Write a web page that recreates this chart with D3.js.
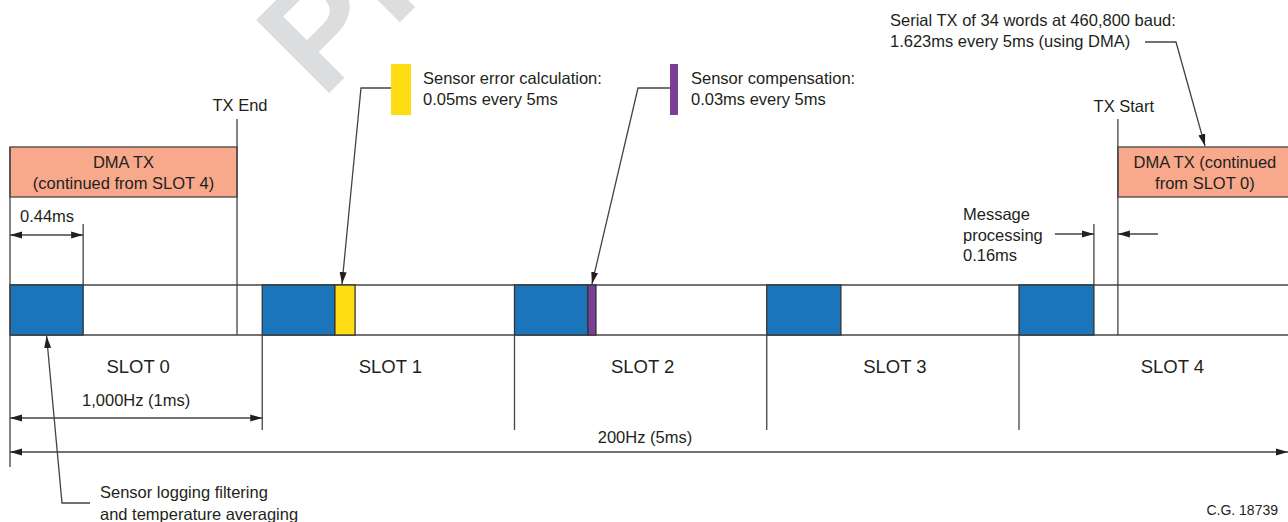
<!DOCTYPE html>
<html lang="en">
<head>
    <meta charset="UTF-8">
    <title>Slot timing</title>
    <script src="https://d3js.org/d3.v7.min.js"></script>
    <style>
    body{
        margin: 0;
        background: #fff;
    }
    svg text {
        font-family: "Liberation Sans", Arial, sans-serif;
        font-size: 16.5px;
        fill: #231f20;
    }
    .slot-label {
        font-size: 18.5px;
    }
    .line {
        stroke: #444;
        stroke-width: 1.3;
        fill: none;
    }
    </style>
</head>
<body>
    <script>
    var width = 1288;
    var height = 522;

    // slots (ms)
    var slotNames = ["SLOT 0", "SLOT 1", "SLOT 2", "SLOT 3", "SLOT 4"];
    var slotStart = [0, 1, 2, 3, 4];
    var slotEnd = [1, 2, 3, 4, 5.2];

    // sensor logging filtering blocks (blue), start / end in ms
    var filterStart = [0, 1, 2, 3, 4];
    var filterEnd = [0.29, 1.288, 2.291, 3.294, 4.297];

    // sensor error calculation (yellow) and compensation (purple)
    var errorCalc = [1.288, 1.368];
    var compensation = [2.291, 2.323];

    // DMA TX boxes
    var dmaStart = [0, 4.392];
    var dmaEnd = [0.9, 5.082];
    var dmaLines = [["DMA TX", "(continued from SLOT 4)"], ["DMA TX (continued", "from SLOT 0)"]];

    var txEnd = 0.9;
    var txStart = 4.392;

    var svg = d3.select("body")
        .append("svg")
        .attr("width", width)
        .attr("height", height);

    var x = d3.scaleLinear()
        .domain([0, 5])
        .range([10, 10 + 252.25 * 5]);

    var bandTop = 285, bandBottom = 335;

    // arrow marker
    var defs = svg.append("defs");
    defs.append("marker")
        .attr("id", "arr")
        .attr("viewBox", "0 0 12 8")
        .attr("refX", 12).attr("refY", 4)
        .attr("markerWidth", 12).attr("markerHeight", 8)
        .attr("markerUnits", "userSpaceOnUse")
        .attr("orient", "auto-start-reverse")
        .append("path")
        .attr("d", "M0,0.5 L12,4 L0,7.5 Z")
        .attr("fill", "#231f20");

    // watermark (cut off at the top, as in the original)
    svg.append("text")
        .attr("transform", "translate(322,100) rotate(-45)")
        .style("font-size", "150px")
        .style("font-weight", "bold")
        .style("fill", "#dcdddf")
        .text("PREVIEW");

    function line(x1, y1, x2, y2, arrowStart, arrowEnd) {
        var l = svg.append("line")
            .attr("class", "line")
            .attr("x1", x1).attr("y1", y1)
            .attr("x2", x2).attr("y2", y2);
        if (arrowStart) l.attr("marker-start", "url(#arr)");
        if (arrowEnd) l.attr("marker-end", "url(#arr)");
        return l;
    }

    function leader(points) {
        svg.append("path")
            .attr("class", "line")
            .attr("d", d3.line()(points))
            .attr("marker-end", "url(#arr)");
    }

    // DMA boxes
    svg.selectAll(".dma")
        .data(dmaStart)
        .enter().append("rect")
        .attr("class", "dma")
        .attr("x", function(d) { return x(d); })
        .attr("y", 147)
        .attr("width", function(d, i) { return x(dmaEnd[i]) - x(d); })
        .attr("height", 50)
        .attr("fill", "#f8a98b")
        .attr("stroke", "#444")
        .attr("stroke-width", 1.3);

    dmaLines.forEach(function(lines, i) {
        var cx = (x(dmaStart[i]) + x(dmaEnd[i])) / 2;
        lines.forEach(function(t, j) {
            svg.append("text")
                .attr("x", cx).attr("y", 168 + j * 21)
                .attr("text-anchor", "middle")
                .text(t);
        });
    });

    // timeline band
    line(x(0), bandTop, width, bandTop);
    line(x(0), bandBottom, width, bandBottom);

    svg.selectAll(".filter")
        .data(filterStart)
        .enter().append("rect")
        .attr("class", "filter")
        .attr("x", function(d) { return x(d); })
        .attr("y", bandTop)
        .attr("width", function(d, i) { return x(filterEnd[i]) - x(d); })
        .attr("height", bandBottom - bandTop)
        .attr("fill", "#1b75bb")
        .attr("stroke", "#333")
        .attr("stroke-width", 1.3);

    svg.append("rect")
        .attr("x", x(errorCalc[0])).attr("y", bandTop)
        .attr("width", x(errorCalc[1]) - x(errorCalc[0]))
        .attr("height", bandBottom - bandTop)
        .attr("fill", "#ffdd15").attr("stroke", "#333").attr("stroke-width", 1.3);

    svg.append("rect")
        .attr("x", x(compensation[0])).attr("y", bandTop)
        .attr("width", x(compensation[1]) - x(compensation[0]))
        .attr("height", bandBottom - bandTop)
        .attr("fill", "#7b3f98").attr("stroke", "#333").attr("stroke-width", 1.3);

    // vertical reference lines
    line(x(0), 147, x(0), 467);
    line(x(txEnd), 119, x(txEnd), bandBottom);
    line(x(txStart), 119, x(txStart), bandBottom);
    line(x(filterEnd[0]), 224, x(filterEnd[0]), bandTop);
    line(x(filterEnd[4]), 224, x(filterEnd[4]), bandTop);

    slotStart.slice(1).forEach(function(s) {
        line(x(s), bandBottom, x(s), 430);
    });

    // slot labels
    svg.selectAll(".slot-label")
        .data(slotNames)
        .enter().append("text")
        .attr("class", "slot-label")
        .attr("x", function(d, i) { return (x(slotStart[i]) + x(slotEnd[i])) / 2 + 2; })
        .attr("y", 373)
        .attr("text-anchor", "middle")
        .text(function(d) { return d; });

    // dimension arrows
    line(x(0), 235, x(filterEnd[0]), 235, true, true);
    svg.append("text").attr("x", x(0) + 10).attr("y", 222).text("0.44ms");

    line(x(0), 418, x(1), 418, true, true);
    svg.append("text").attr("x", (x(0) + x(1)) / 2).attr("y", 406)
        .attr("text-anchor", "middle").text("1,000Hz (1ms)");

    line(x(0), 452, width, 452, true, true);
    svg.append("text").attr("x", 645).attr("y", 443)
        .attr("text-anchor", "middle").text("200Hz (5ms)");

    // message processing
    line(x(filterEnd[4]) - 39, 234, x(filterEnd[4]), 234, false, true);
    line(x(txStart) + 40, 234, x(txStart), 234, false, true);
    ["Message", "processing", "0.16ms"].forEach(function(t, i) {
        svg.append("text").attr("x", 963).attr("y", 220 + i * 20.5).text(t);
    });

    // TX markers
    svg.append("text").attr("x", x(txEnd) + 3).attr("y", 111)
        .attr("text-anchor", "middle").text("TX End");
    svg.append("text").attr("x", x(txStart) + 6).attr("y", 112)
        .attr("text-anchor", "middle").text("TX Start");

    // legend: sensor error calculation
    svg.append("rect").attr("x", 391).attr("y", 64).attr("width", 20).attr("height", 51)
        .attr("fill", "#ffdd15");
    svg.append("text").attr("x", 423).attr("y", 84).text("Sensor error calculation:");
    svg.append("text").attr("x", 423).attr("y", 105).text("0.05ms every 5ms");
    leader([[391, 88], [361, 88], [x((errorCalc[0] + errorCalc[1]) / 2) - 3, bandTop - 1]]);

    // legend: sensor compensation
    svg.append("rect").attr("x", 670).attr("y", 64).attr("width", 8).attr("height", 51)
        .attr("fill", "#7b3f98");
    svg.append("text").attr("x", 691).attr("y", 84).text("Sensor compensation:");
    svg.append("text").attr("x", 691).attr("y", 105).text("0.03ms every 5ms");
    leader([[670, 88], [638, 88], [x((compensation[0] + compensation[1]) / 2), bandTop - 1]]);

    // serial TX note
    svg.append("text").attr("x", 890).attr("y", 26).text("Serial TX of 34 words at 460,800 baud:");
    svg.append("text").attr("x", 890).attr("y", 47).text("1.623ms every 5ms (using DMA) ");
    leader([[1145, 42], [1176, 42], [1205, 146]]);

    // sensor logging note
    svg.append("text").attr("x", 100).attr("y", 498).text("Sensor logging filtering");
    svg.append("text").attr("x", 100).attr("y", 520).text("and temperature averaging");
    leader([[90, 503], [62, 503], [x(filterEnd[0] / 2), bandBottom + 1]]);

    svg.append("text").attr("x", 1278).attr("y", 515)
        .attr("text-anchor", "end").style("font-size", "14px").text("C.G. 18739");
    </script>
</body>
</html>
